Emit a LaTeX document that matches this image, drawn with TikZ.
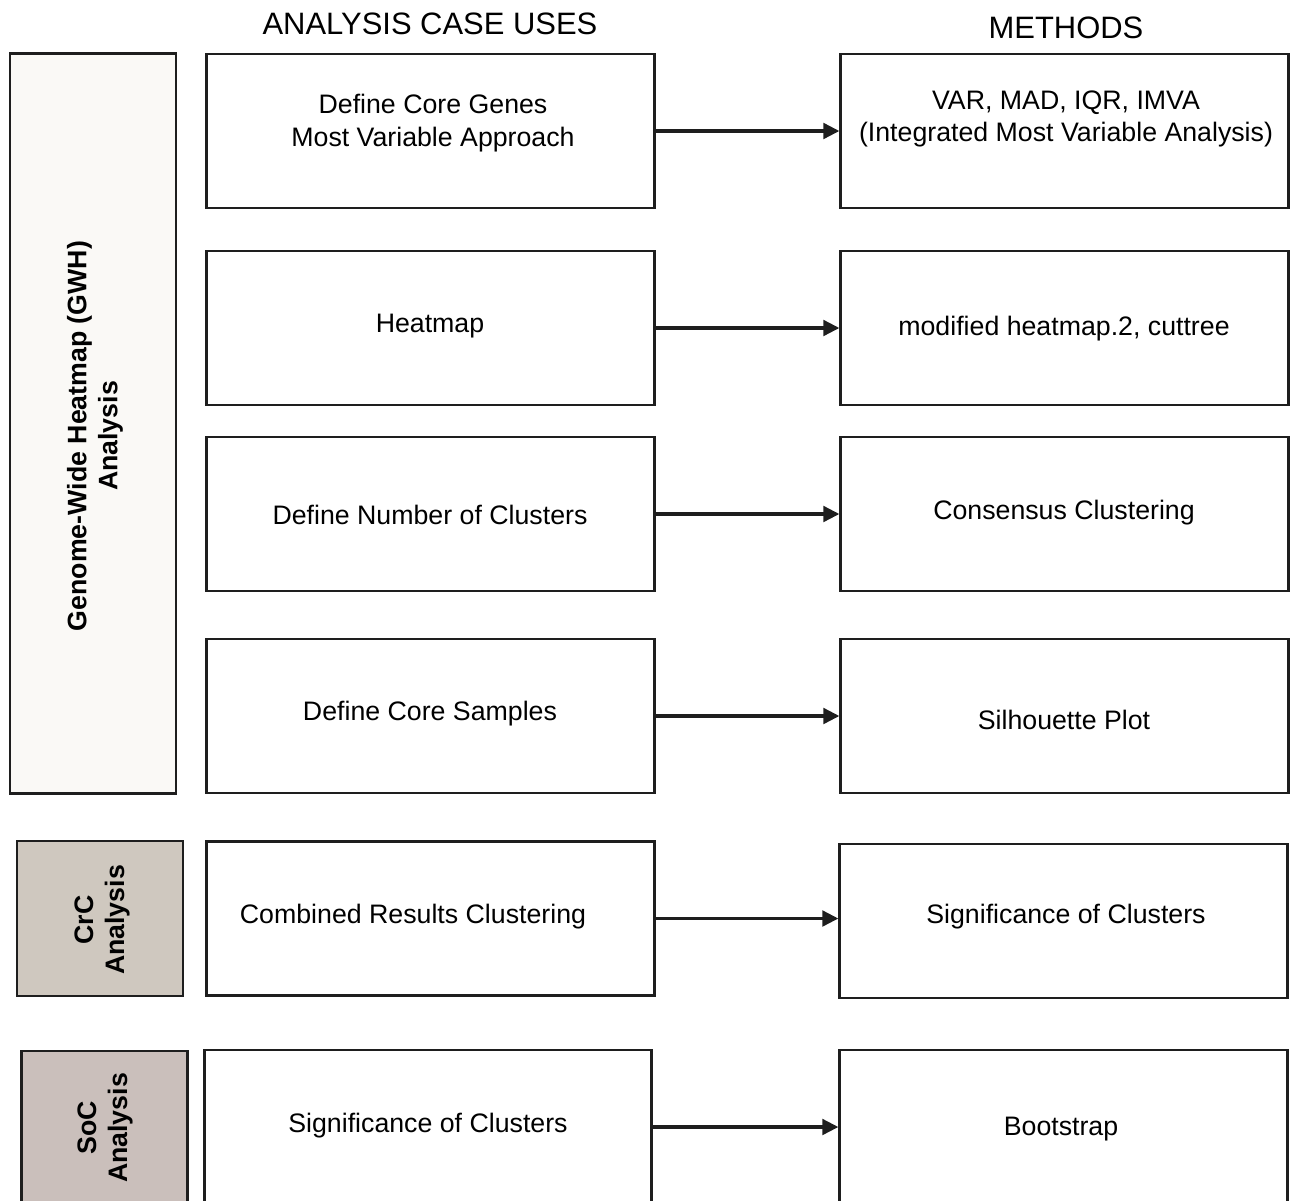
\documentclass[tikz,border=0pt]{standalone}
\usepackage{fontspec}
\setmainfont{Liberation Sans}
\usetikzlibrary{arrows.meta}
\definecolor{gwhfill}{RGB}{250,249,246}
\definecolor{crcfill}{RGB}{207,200,191}
\definecolor{socfill}{RGB}{202,191,187}
\definecolor{edge}{RGB}{30,30,30}

\begin{document}
\begin{tikzpicture}[x=0.01cm,y=-0.01cm,line width=0.8pt,>={Triangle[length=4.6pt,width=4.4pt]},
  casebox/.style={draw=edge,fill=white,minimum width=4.47cm,minimum height=1.54cm,inner sep=0pt},
  sidebox/.style={draw=edge,minimum width=1.66cm,inner sep=0pt},
  txt/.style={align=center,inner sep=0pt,font=\fontsize{7.6}{9.2}\selectfont},
  head/.style={inner sep=0pt,font=\fontsize{8.8}{10.5}\selectfont},
  side/.style={txt,rotate=90,font=\fontsize{7.6}{8.8}\selectfont\bfseries}]
  \useasboundingbox (0,0) rectangle (1291,1200);
  % headers
  \node[head] (hcase) at (430,24) {ANALYSIS CASE USES};
  \node[head] (hmeth) at (1066,28) {METHODS};
  % left side boxes
  \node[sidebox,fill=gwhfill,minimum height=7.39cm] (gwh) at (93,423.5) {};
  \node[side] (gwht) at (95,436) {Genome-Wide Heatmap (GWH)\\Analysis};
  \node[sidebox,fill=crcfill,minimum height=1.55cm] (crc) at (100,918.5) {};
  \node[side] (crct) at (102,920) {CrC\\Analysis};
  \node[sidebox,fill=socfill,minimum height=1.55cm] (soc) at (104.5,1128.5) {};
  \node[side] (soct) at (105,1128) {SoC\\Analysis};
  % analysis case uses
  \node[casebox] (u1) at (430.5,131) {};
  \node[casebox] (u2) at (430.5,328) {};
  \node[casebox] (u3) at (430.5,514) {};
  \node[casebox] (u4) at (430.5,716) {};
  \node[casebox] (u5) at (430.5,918.5) {};
  \node[casebox] (u6) at (428,1127) {};
  \node[txt] (u1t) at (433,123) {Define Core Genes\\Most Variable Approach};
  \node[txt] (u2t) at (430,326) {Heatmap};
  \node[txt] (u3t) at (430,515) {Define Number of Clusters};
  \node[txt] (u4t) at (430,714) {Define Core Samples};
  \node[txt] (u5t) at (413,917) {Combined Results Clustering};
  \node[txt] (u6t) at (428,1126) {Significance of Clusters};
  % methods
  \node[casebox] (m1) at (1064.5,131) {};
  \node[casebox] (m2) at (1064.5,328) {};
  \node[casebox] (m3) at (1064.5,514) {};
  \node[casebox] (m4) at (1064.5,716) {};
  \node[casebox] (m5) at (1063.5,921) {};
  \node[casebox] (m6) at (1063.5,1127) {};
  \node[txt] (m1t) at (1066,119) {VAR, MAD, IQR, IMVA\\(Integrated Most Variable Analysis)};
  \node[txt] (m2t) at (1064,329) {modified heatmap.2, cuttree};
  \node[txt] (m3t) at (1064,513) {Consensus Clustering};
  \node[txt] (m4t) at (1064,720) {Silhouette Plot};
  \node[txt] (m5t) at (1066,917) {Significance of Clusters};
  \node[txt] (m6t) at (1061,1129) {Bootstrap};
  % arrows
  \foreach \i in {1,...,6}
    \draw[->,line width=1.05pt,edge] (u\i.east) -- (u\i.east -| m\i.west);
\end{tikzpicture}
\end{document}
